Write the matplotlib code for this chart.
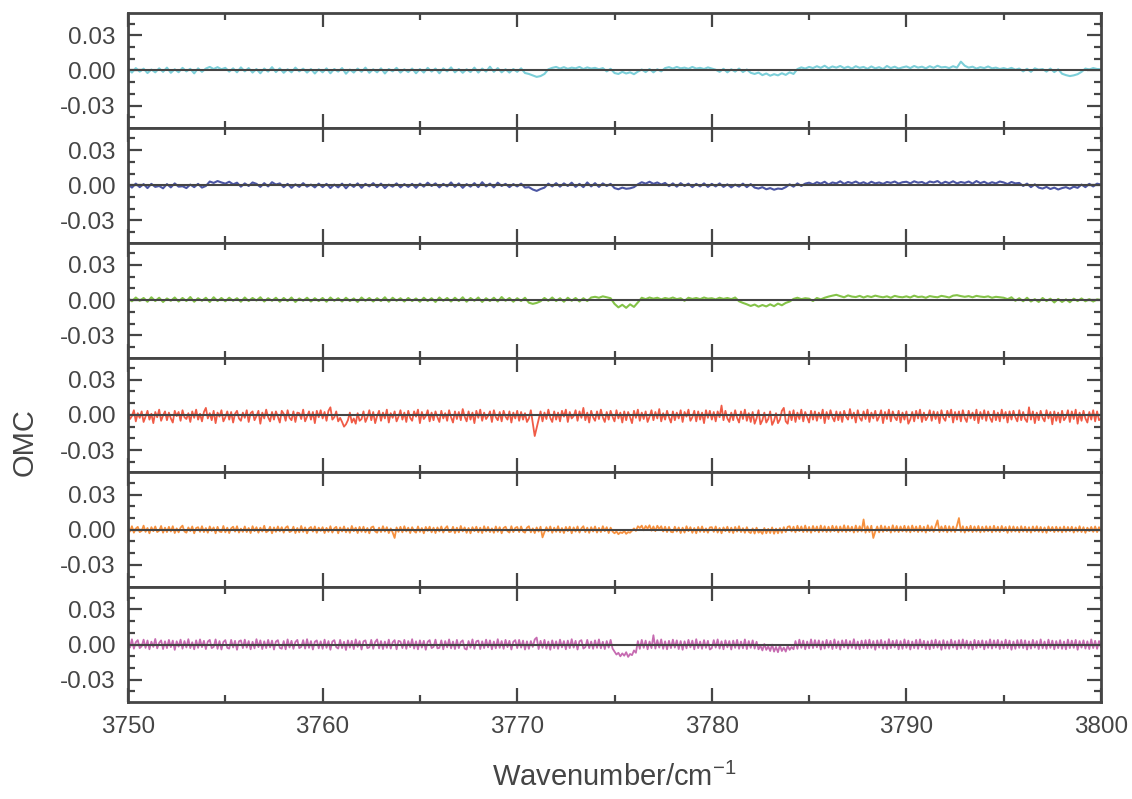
import numpy as np
import matplotlib
matplotlib.use("Agg")
import matplotlib.pyplot as plt
from matplotlib.ticker import MultipleLocator

plt.rcParams["font.family"] = ["Liberation Sans", "DejaVu Sans"]
plt.rcParams["mathtext.fontset"] = "custom"
plt.rcParams["mathtext.rm"] = "Liberation Sans"

# residuals (obs - calc), units of 1e-4, starting at 3750 cm-1
# top three traces sampled every 0.2 cm-1, bottom three every 0.1 cm-1
omc_cyan = """
12 -18 20 -10 15 -22 8 -16 18 -12 24 -20 10 -15 22 -8 14 -25 18 -12 16 30 12 28 10
22 -10 18 -16 26 -8 20 -18 12 -24 16 -10 28 -14 18 -20 10 -16 24 -8 15 -18 12 -26 10
-16 18 -24 12 -10 20 -28 8 -18 16 -12 24 -20 10 -16 18 -26 12 -8 22 -18 10 -14 16 -24
12 -18 22 -10 16 -24 18 -8 26 -16 12 -20 10 -14 24 -18 16 -10 32 -12 20 -16 10 -18 12
-12 18 -22 -30 -42 -55 -48 -30 10 22 30 16 28 14 24 18 30 12 26 16 22 10 20 -8 14
-22 -30 -12 -26 -16 -32 -10 8 -14 12 -16 10 -8 20 28 16 30 18 24 14 30 16 22 12 26
16 6 -12 14 -16 10 -10 16 -14 8 -20 -30 -18 -40 -26 -45 -32 -42 -24 -38 -16 -30 12 26 16
30 20 36 22 40 18 34 24 38 20 32 16 36 22 30 14 34 18 28 12 38 20 32 16 26
34 20 38 24 32 18 36 22 40 26 30 20 36 24 75 40 24 32 16 28 20 34 18 24 12
20 10 22 6 16 -8 14 -12 18 6 12 -10 16 -14 10 -28 -40 -48 -42 -32 -12 16 8 20 12
10
"""

omc_blue = """
8 -20 14 -16 10 -24 12 -14 -6 -26 10 -18 16 -12 -8 -24 6 -16 12 -20 -6 32 20 36 24
14 30 8 22 -12 16 -6 24 12 -14 18 -10 26 6 16 -16 12 -22 8 -14 18 -12 6 -18 14
-16 12 -24 6 -18 14 -26 10 -14 16 -22 12 -10 18 -16 14 -24 6 -12 16 -18 10 -14 12 -22
14 -12 22 -6 16 -18 12 -10 24 -14 16 -22 10 -12 18 -16 26 -10 14 -18 22 -6 12 -16 10
-10 14 -20 -16 -36 -48 -32 -20 14 -10 18 -12 16 -6 22 -14 12 -16 24 -10 18 -14 16 -6 12
-24 -34 -20 -30 -26 -16 8 26 14 30 12 24 6 20 -8 16 -12 18 -6 14 -16 12 -10 16 -14
12 -10 16 -14 8 -18 6 -12 14 -16 10 -20 -28 -16 -34 -24 -38 -28 -32 -16 8 -12 16 -6 14
22 8 26 14 30 6 24 16 34 12 28 18 32 14 26 10 30 16 24 12 28 20 32 14 26
30 16 34 22 28 12 32 24 36 14 30 18 34 16 28 20 32 14 36 18 30 12 26 16 32
24 10 28 16 20 -6 14 -16 8 -20 -28 -14 -32 -20 -36 -24 -16 -30 -12 -22 6 -16 12 -10 14
6
"""

omc_green = """
16 -10 22 -6 18 -14 24 -8 20 -16 14 -6 22 -12 18 -8 26 -14 16 -6 20 -16 24 -8 18
-10 20 -6 16 -14 22 -8 18 -4 24 -12 16 -6 20 -14 18 -8 22 -16 14 -6 20 -12 16 -8
18 -14 22 -6 16 -12 20 -8 14 -16 22 -6 18 -12 16 -8 24 -14 20 -6 16 -12 18 -8 14
-14 20 -8 16 -16 22 -6 18 -12 20 -8 24 -14 18 -6 22 -16 16 -8 20 -12 26 -6 18 -14
16 -8 20 -22 -32 -24 -10 18 -6 22 -8 16 -14 20 -6 18 -12 16 -8 22 28 20 32 24 16
-32 -62 -40 -66 -36 -58 -20 20 8 22 12 20 6 18 10 22 8 16 -6 20 10 18 8 22 12
16 6 20 10 18 8 22 -10 -24 -36 -50 -38 -56 -42 -54 -36 -52 -30 -44 -24 -12 10 20 8 16
12 -8 18 6 20 30 38 45 34 24 40 30 26 36 22 34 26 38 30 24 32 20 36 28 24
32 22 38 26 30 20 34 28 24 36 30 22 38 42 34 28 34 24 36 30 26 32 20 28 24
20 8 24 -6 16 -10 20 -12 8 -16 18 -8 12 -20 10 -16 6 -18 12 -8 14 -10 8 -12 6
0
"""

omc_red = """
20 -35 -10 40 -55 15 -25 30 -60 -15 35 -40 10 -70 25 -20 45 -50 -5 30
-45 20 -30 -65 35 -10 25 -50 40 -20 -35 15 -60 30 -25 45 -40 10 -55 25
60 -30 15 -45 35 -70 20 -15 40 -55 -20 30 -40 25 -65 10 35 -30 -50 20
-25 40 -60 15 30 -45 -10 35 -75 20 -30 45 -20 -55 25 -40 30 -15 -65 35
10 -50 40 -25 -45 30 -60 20 15 -35 45 -55 -15 30 -40 25 -70 35 -20 40
-30 25 -50 35 65 -40 -20 30 -55 -25 -60 -100 -80 -45 20 -65 -30 -75 15 -50
-35 30 -60 -20 40 -45 25 -70 -10 35 -50 20 -30 45 -65 15 -25 30 -55 -15
40 -40 20 -60 35 -25 -50 30 -15 45 -70 25 -35 -10 40 -55 20 -45 30 -20
-60 35 -30 15 -50 40 -20 -65 30 -35 25 -45 50 -15 -55 30 -40 20 -70 35
-25 45 -50 20 -35 -10 30 -60 40 -20 -45 25 -55 35 -15 -40 30 -65 20 -30
35 -50 25 -40 15 -60 -30 40 -70 -180 -110 -40 30 -55 20 -35 45 -25 -60 30
-40 20 -55 35 -15 45 -60 25 -30 -10 40 -50 30 -25 60 -45 20 -65 35 -20
-50 30 -35 45 -20 -60 25 -40 35 -15 -55 40 -30 20 -65 30 -45 25 -20 -70
35 -25 45 -50 20 -35 30 -60 -15 40 -45 25 -30 50 -55 15 -40 35 -20 -65
30 -45 20 -30 40 -60 25 -15 45 -50 -20 35 -55 30 -40 20 -70 40 -25 35
-40 25 -55 30 -20 80 -45 35 -30 -60 20 -45 40 -25 -65 30 -35 45 -50 15
-60 25 -75 -30 40 -80 -45 20 -65 -35 30 -85 -50 15 -70 -40 35 60 -55 -75
30 -45 40 -60 20 -35 45 -55 25 -20 -65 35 -40 30 -50 20 -30 45 -70 25
-35 40 -20 -55 30 -45 25 -60 35 -15 -40 50 -30 20 -65 40 -25 -50 30 -35
45 -60 20 -30 35 -50 -15 40 -70 25 -35 45 -55 30 -20 -45 35 -65 20 -40
30 -75 -40 25 -55 35 -30 45 -60 20 -45 -15 40 -50 30 -35 25 -70 40 -25
-50 35 -20 45 -65 25 -40 30 -55 40 -25 -60 35 -30 20 -45 45 -70 25 -35
40 -50 30 -25 -60 35 -45 20 -55 45 -30 25 -65 30 -40 35 -20 -55 40 -45
25 -35 -60 65 -40 30 -70 20 -45 35 -25 -55 40 -30 25 -80 30 -50 20 -65
35 -45 -20 40 -60 30 -35 45 -75 20 -50 35 -30 -65 25 -40 40 -55 30 -45
-30
"""

omc_orange = """
20 -15 30 -25 10 25 -20 -10 35 -18 15 -30 22 -12 28 -20 -8 32 -25 18
-20 25 -15 30 -28 12 -22 18 35 -15 -25 20 -12 28 -30 15 22 -18 30 -20
15 -25 28 -10 20 -30 25 -15 -20 32 -22 18 -28 12 26 -16 30 -24 10 -18
28 -20 15 -28 30 -12 22 -25 18 -15 34 -22 -10 25 -30 20 -18 28 -14 22
-25 18 30 -20 -12 26 -28 15 -22 32 -18 20 -30 12 24 -16 28 -26 18 -10
22 -28 16 -18 30 -24 12 25 -30 20 -15 28 -22 14 -26 32 -12 18 -28 24
-18 26 -22 15 -30 20 28 -14 -25 18 -20 30 -16 22 -28 12 -24 -70 20 -18
25 -22 30 -15 18 -28 22 -12 -25 28 -18 15 -30 24 -10 26 -22 18 -28 20
-15 28 -24 12 30 -20 -16 25 -28 18 -22 32 -14 20 -26 15 -30 22 -12 26
-22 18 -28 30 -15 24 -20 12 -26 28 -18 22 -30 15 26 -12 -24 30 -20 16
24 -20 28 -15 -25 18 30 -22 12 -28 20 -16 26 -65 -20 22 -14 28 -26 18
-18 30 -22 15 -28 24 -12 26 -30 20 -16 28 -24 12 30 -20 18 -26 22 -15
28 -24 16 -20 30 -12 22 -28 18 -15 -30 -15 -38 -22 -28 -10 -35 -20 -25 -8
12 -10 30 15 35 -5 32 10 38 -8 28 -12 34 6 30 -15 26 -20 24 -18
-22 26 -16 20 -28 18 -24 30 -12 22 -26 15 -30 24 -18 28 -20 12 -25 20
22 -18 28 -24 15 -30 20 -12 26 -22 18 -28 24 -16 30 -20 14 -26 22 -18
-28 12 -32 18 -25 -10 -35 15 -30 8 -28 20 -34 10 -30 14 -26 22 -20 25
30 -15 26 -22 34 -12 28 -20 36 -18 24 -25 32 -14 28 -22 36 -16 30 -20
26 -18 34 -12 30 -22 28 -16 38 -20 32 -14 26 -24 36 -18 30 -15 88 -25
30 -20 34 -70 -15 28 -22 36 -18 30 -12 26 -24 38 -16 32 -20 28 -14 34
-18 30 -22 36 -14 28 -20 34 -16 26 -24 38 -12 30 -18 32 80 -20 28 -15
34 -22 30 -16 28 -20 36 100 -18 30 -24 26 -14 34 -20 28 -16 32 -22 26
-18 30 -14 28 -22 34 -16 26 -20 32 -12 24 -26 30 -18 28 -15 24 -22 30
-16 26 -20 22 -24 28 -14 30 -18 24 -22 20 -26 28 -12 24 -20 26 -16 22
-22 28 -18 24 -14 26 -24 20 -16 30 -20 22 -26 18 -12 24 -18 28 -20 22
-10
"""

omc_magenta = """
30 -25 45 -35 20 38 -30 -15 42 -28 35 -40 25 -20 48 -32 15 36 -38 28
-30 40 -22 34 -45 28 -18 42 -35 30 -25 46 -30 20 -40 36 -28 44 -22 32
-38 26 40 -30 -20 44 -36 30 -42 22 38 -28 -34 40 -25 32 -44 28 36 -30
42 -26 30 -40 24 -32 46 -22 36 -38 28 -30 40 -24 34 -42 26 38 -28 -35
30 -40 44 -25 32 -36 22 40 -30 -20 38 -34 46 -28 30 -42 24 36 -32 28
-36 42 -28 30 -44 26 38 -22 -34 40 -30 24 -46 36 -26 32 -38 44 -20 30
-42 28 36 -30 -24 40 -36 22 44 -32 30 -38 26 -28 42 -34 20 38 -40 32
26 -30 40 -36 30 -22 46 -34 28 -40 36 -26 32 -44 24 38 -30 -20 42 -32
-28 36 -40 30 -24 44 -32 26 -38 40 -30 22 36 -34 -42 30 -26 44 -36 28
34 -38 28 -30 42 -24 36 -40 26 -32 46 -28 30 -36 40 -22 32 -42 24 38
-30 40 -26 34 -42 28 -36 30 -20 44 60 -38 32 -28 40 -34 26 -44 36 -30
28 -36 42 -24 30 -40 34 -30 46 -26 32 -42 28 38 -34 -22 40 -30 26 -36
36 -28 44 -32 24 -38 30 -26 40 -34 -60 -85 -70 -100 -75 -95 -65 -105 -80 -90
-50 -70 30 -36 40 -28 34 -40 26 -30 80 -34 38 -26 44 -36 28 -40 32 -30
42 -26 36 -38 30 -44 28 -32 40 -24 34 -40 46 -30 26 -36 38 -28 32 -42
-30 38 -26 44 -34 28 -40 36 -24 30 -42 34 -28 40 -36 26 -32 44 -38 30
-28 36 -34 24 -40 -10 -50 5 -45 -15 -55 0 -60 -20 -65 -5 -55 -25 -60 -10
-45 -20 -40 30 -36 42 -28 34 -40 26 -32 44 -30 38 -24 36 -42 28 -34 40
-26 32 -38 44 -30 28 -42 36 -24 40 -34 30 -28 46 -36 26 -40 34 -30 38
-32 42 -28 30 -44 36 -26 40 -34 28 -38 46 -30 32 -24 38 -40 30 -36 44
-28 34 -42 26 -30 40 -36 44 -24 32 -38 28 -40 36 -30 42 -26 30 -44 38
-34 28 -36 42 -26 30 -40 38 -32 44 -28 34 -36 26 -42 40 -30 32 -24 36
-40 30 -28 44 -34 36 -26 40 -38 28 -32 42 -30 34 -44 26 -36 38 -28 40
-30 36 -42 28 -34 40 -26 30 -38 44 -32 26 -36 42 -28 34 -40 30 -30 38
-36 26 -40 42 -30 34 -28 40 -44 30 -26 36 -34 28 -38 44 -30 32 -36 30
-20
"""

series = [omc_cyan, omc_blue, omc_green, omc_red, omc_orange, omc_magenta]
steps = [0.2, 0.2, 0.2, 0.1, 0.1, 0.1]
colors = ["#7ccfd9", "#4c56a3", "#84c348", "#f05b46", "#f7913e", "#c66bb1"]

x_start, x_end = 3750, 3800
yticks = [-0.03, 0.0, 0.03]
ytick_labels = ["-0.03", "0.00", "0.03"]
xticks = [3750, 3760, 3770, 3780, 3790, 3800]

gray = "#454545"

fig, axes = plt.subplots(6, 1, sharex=True, figsize=(11.32, 7.99), dpi=100)
fig.subplots_adjust(left=0.1131, right=0.9726, top=0.9837, bottom=0.1214, hspace=0)

for ax, s, dx, c in zip(axes, series, steps, colors):
    y = np.array(s.split(), dtype=float) * 1e-4
    x = x_start + dx * np.arange(len(y))
    ax.plot(x, y, color=c, lw=1.5 if dx > 0.15 else 1.3, zorder=2)
    ax.axhline(0, color=gray, lw=1.5, zorder=3)
    ax.set_xlim(x_start, x_end)
    ax.set_ylim(-0.049, 0.049)
    ax.set_yticks(yticks)
    ax.set_yticklabels(ytick_labels)
    ax.yaxis.set_minor_locator(MultipleLocator(0.01))
    ax.xaxis.set_minor_locator(MultipleLocator(5))
    ax.tick_params(which="both", direction="in", top=True, right=True,
                   color=gray, width=1.6, labelcolor=gray, labelsize=17.5)
    ax.tick_params(which="major", length=10)
    ax.tick_params(which="minor", length=5)
    ax.tick_params(axis="y", pad=9)
    ax.tick_params(axis="x", pad=10)
    for sp in ax.spines.values():
        sp.set_color(gray)
        sp.set_linewidth(2.0)

axes[-1].set_xticks(xticks)
axes[-1].set_xticklabels([str(v) for v in xticks])
axes[-1].set_xlabel("Wavenumber/cm$^{\\mathregular{-1}}$", fontsize=21, color=gray, labelpad=18)
fig.text(0.022, 0.447, "OMC", rotation=90, fontsize=21, color=gray, ha="center", va="center")

plt.savefig("out.png", dpi=100)
plt.close()
